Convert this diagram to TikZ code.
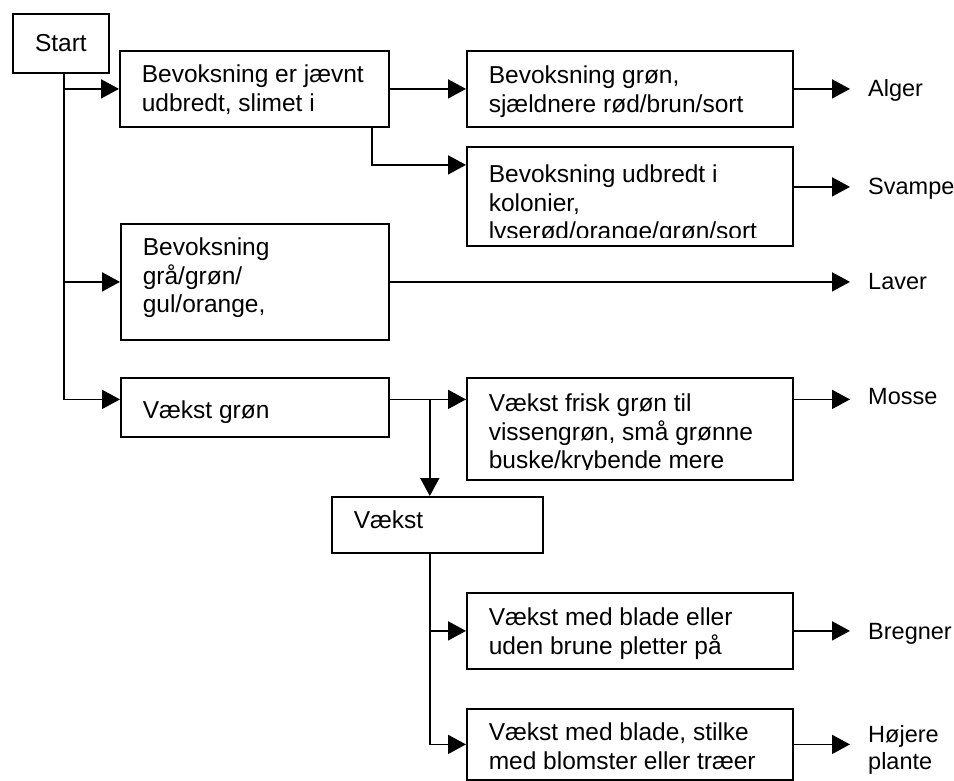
\documentclass[tikz,border=0pt]{standalone}
\usepackage{fontspec}
\setmainfont{Liberation Sans}
\usepackage{tikz}
\usetikzlibrary{shapes,arrows.meta,positioning,calc}

\newcommand{\boxfont}{\fontsize{24.5}{28.5}\selectfont}

\begin{document}
\begin{tikzpicture}[
    x=1pt, y=-1pt,
    every node/.style={font=\boxfont},
    box/.style={draw, rectangle, line width=1.8pt, inner sep=0pt, anchor=north west},
    boxtext/.style={anchor=north west, align=left, inner sep=0pt, minimum width=0pt, minimum height=0pt},
    arr/.style={-{Triangle[length=18pt,width=19pt]}, line width=1.8pt},
    result/.style={anchor=base west, inner xsep=18pt, inner ysep=0pt, align=left, font=\fontsize{23.5}{27.5}\selectfont}
]
\useasboundingbox (0,0) rectangle (954,780);

% Start
\node[box, minimum width=96pt, minimum height=59pt] (start) at (12,13) {Start};

% first column
\node[box, minimum width=269pt, minimum height=76pt,
    path picture={\node[boxtext] (bevoks-t) at ([shift={(21pt,-13.4pt)}]path picture bounding box.north west) {Bevoksning er jævnt\\udbredt, slimet i};}] (bevoks) at (119,50) {};
\node[box, minimum width=268pt, minimum height=116pt,
    path picture={\node[boxtext] (graa-t) at ([shift={(21pt,-13.4pt)}]path picture bounding box.north west) {Bevoksning\\grå/grøn/\\gul/orange,};}] (graa) at (120,223) {};
\node[box, minimum width=268pt, minimum height=59pt,
    path picture={\node[boxtext] (vgron-t) at ([shift={(21pt,-22.4pt)}]path picture bounding box.north west) {Vækst grøn};}] (vgron) at (120,377) {};
\node[box, minimum width=211pt, minimum height=56pt,
    path picture={\node[boxtext] (vaekst-t) at ([shift={(21pt,-13.4pt)}]path picture bounding box.north west) {Vækst};}] (vaekst) at (331,496) {};

% second column (last lines cut off inside the box)
\node[box, minimum width=326pt, minimum height=76pt,
    path picture={\node[boxtext] (groen-t) at ([shift={(21pt,-14.4pt)}]path picture bounding box.north west) {Bevoksning grøn,\\sjældnere rød/brun/sort};}] (groen) at (466,50) {};
\node[box, minimum width=326pt, minimum height=99pt,
    path picture={\clip ([yshift=8pt]path picture bounding box.south west) rectangle (path picture bounding box.north east);
    \node[boxtext] (svampbox-t) at ([shift={(21pt,-17.4pt)}]path picture bounding box.north west) {Bevoksning udbredt i\\kolonier,\\lyserød/orange/grøn/sort};}] (svampbox) at (466,146) {};
\node[box, minimum width=326pt, minimum height=102pt,
    path picture={\clip ([yshift=10pt]path picture bounding box.south west) rectangle (path picture bounding box.north east);
    \node[boxtext] (frisk-t) at ([shift={(21pt,-15.4pt)}]path picture bounding box.north west) {Vækst frisk grøn til\\vissengrøn, små grønne\\buske/krybende mere};}] (frisk) at (466,377) {};
\node[box, minimum width=326pt, minimum height=76pt,
    path picture={\node[boxtext] (bregbox-t) at ([shift={(21pt,-14.4pt)}]path picture bounding box.north west) {Vækst med blade eller\\uden brune pletter på};}] (bregbox) at (466,592) {};
\node[box, minimum width=326pt, minimum height=71pt,
    path picture={\node[boxtext] (hoejbox-t) at ([shift={(21pt,-13.4pt)}]path picture bounding box.north west) {Vækst med blade, stilke\\med blomster eller træer};}] (hoejbox) at (466,708) {};

% results
\node[result] (alger) at (850,96.5) {Alger};
\node[result] (svampe) at (850,194.5) {Svampe};
\node[result] (laver) at (850,289.5) {Laver};
\node[result] (mosse) at (850,404) {Mosse};
\node[result] (bregner) at (850,639) {Bregner};
\node[result, anchor=north west] (hoejere) at (850,725) {Højere\\plante};

% connectors from start
\draw[arr] ([xshift=3pt]start.south) |- (bevoks.west);
\draw[arr] ([xshift=3pt]start.south) |- (graa.west);
\draw[arr] ([xshift=3pt]start.south) |- ([yshift=8pt]vgron.west);

\draw[arr] (bevoks.east) -- (groen.west);
\draw[arr] ([xshift=-18pt]bevoks.south east) |- ([yshift=31.5pt]svampbox.west);
\draw[arr] ([yshift=8pt]vgron.east) -- ([yshift=29.5pt]frisk.west);

\coordinate (split) at ([xshift=40pt,yshift=8pt]vgron.east);
\draw[arr] (split) -- (split |- vaekst.north);
\draw[arr] (split |- vaekst.south) |- (bregbox.west);
\draw[arr] (split |- vaekst.south) |- (hoejbox.west);

% connectors to results
\draw[arr] (groen.east) -- (groen.east -| alger.west);
\draw[arr] ([yshift=9.5pt]svampbox.east) -- ([yshift=9.5pt]svampbox.east -| svampe.west);
\draw[arr] (graa.east) -- (graa.east -| laver.west);
\draw[arr] ([yshift=29.5pt]frisk.east) -- ([yshift=29.5pt]frisk.east -| mosse.west);
\draw[arr] (bregbox.east) -- (bregbox.east -| bregner.west);
\draw[arr] (hoejbox.east) -- (hoejbox.east -| hoejere.west);

\end{tikzpicture}
\end{document}
